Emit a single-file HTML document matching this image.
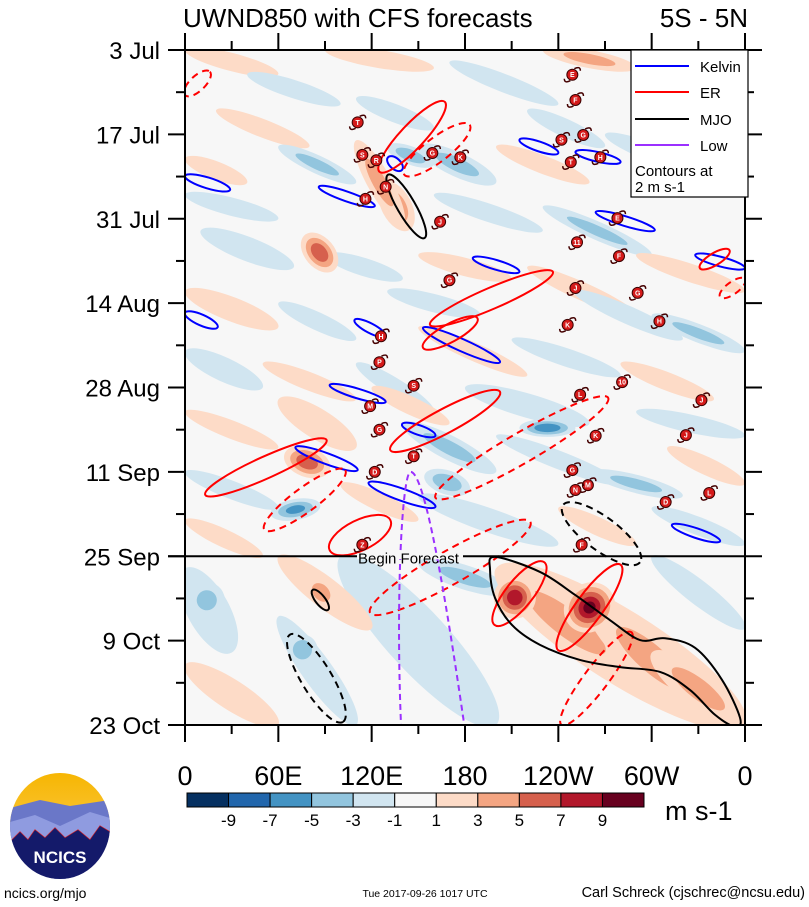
<!DOCTYPE html>
<html><head><meta charset="utf-8">
<style>
html,body{margin:0;padding:0;background:#fff;}
svg{display:block;font-family:"Liberation Sans",sans-serif;}
</style></head>
<body>
<svg id="chart" width="809" height="907" viewBox="0 0 809 907" xmlns="http://www.w3.org/2000/svg">
<defs>
<clipPath id="plotclip"><rect x="185" y="50" width="560" height="675"/></clipPath>
<linearGradient id="sky" x1="0" y1="0" x2="0" y2="1"><stop offset="0" stop-color="#f7b500"/><stop offset="1" stop-color="#f9d36a"/></linearGradient>
<clipPath id="logoclip"><ellipse cx="60" cy="826" rx="50" ry="53"/></clipPath>
</defs>
<text x="183" y="27" font-size="26">UWND850 with CFS forecasts</text>
<text x="748" y="27" font-size="26" text-anchor="end">5S - 5N</text>
<g id="plot">
<rect x="185" y="50" width="560" height="675" fill="#f7f7f7"/>
<g id="fills" clip-path="url(#plotclip)"></g>
<g id="contours" clip-path="url(#plotclip)"></g>
<g id="storms" clip-path="url(#plotclip)"></g>
</g>
<g id="axes"></g>
<g id="legend">
<rect x="631" y="50" width="117" height="147" fill="#fff" stroke="#000" stroke-width="1.2"/>
<g><line x1="635" y1="66" x2="689" y2="66" stroke="#0000ff" stroke-width="2"/><text x="700" y="72" font-size="15">Kelvin</text></g>
<g><line x1="635" y1="92" x2="689" y2="92" stroke="#ff0000" stroke-width="2"/><text x="700" y="98" font-size="15">ER</text></g>
<g><line x1="635" y1="119" x2="689" y2="119" stroke="#000" stroke-width="2"/><text x="700" y="125" font-size="15">MJO</text></g>
<g><line x1="635" y1="145" x2="689" y2="145" stroke="#9b30ff" stroke-width="2"/><text x="700" y="151" font-size="15">Low</text></g>
<text x="635" y="176" font-size="15">Contours at</text>
<text x="635" y="192" font-size="15">2 m s-1</text>
</g>
<g id="colorbar"></g>
<text x="665" y="820" font-size="27">m s-1</text>
<g>
<g clip-path="url(#logoclip)">
<rect x="5" y="770" width="110" height="112" fill="url(#sky)"/>
<polygon points="10,808 40,800 70,806 110,800 110,882 10,882" fill="#6a77c8"/>
<polygon points="10,822 35,815 60,826 90,812 110,818 110,882 10,882" fill="#8f9be0"/>
<polyline points="10,842 20,832 28,840 35,830 45,838 55,828 65,838 78,830 90,840 100,826 110,832" fill="none" stroke="#e02020" stroke-width="1.2"/>
<polygon points="10,842 20,832 28,840 35,830 45,838 55,828 65,838 78,830 90,840 100,826 110,832 110,882 10,882" fill="#141a6a"/>
</g>
<text x="60" y="863" font-size="17" font-weight="bold" fill="#fff" text-anchor="middle">NCICS</text>
</g>
<text x="4" y="898" font-size="14">ncics.org/mjo</text>
<text x="425" y="897" font-size="10.5" text-anchor="middle">Tue 2017-09-26 1017 UTC</text>
<text x="805" y="897" font-size="14.5" text-anchor="end">Carl Schreck (cjschrec@ncsu.edu)</text>
</svg>
<script>
// ---- data ----
const dateLabels = ["3 Jul","17 Jul","31 Jul","14 Aug","28 Aug","11 Sep","25 Sep","9 Oct","23 Oct"];
const lonLabels = ["0","60E","120E","180","120W","60W","0"];
const colorLevels = [-9,-7,-5,-3,-1,1,3,5,7,9];
const colorFills = ["#053061","#2166ac","#4393c3","#92c5de","#d1e5f0","#f7f7f7","#fddbc7","#f4a582","#d6604d","#b2182b","#67001f"];
const forecastDay = 84;
// anomaly features (background wind field): lon1, day1, lon2, day2, thickness(days), value
const anomLon1 = [0,90,170,230,290,20,40,110,150,200,220,270,0,60,0,160,230,290,10,90,150,220,250,300,0,60,130,150,210,280,0,50,110,180,290,0,60,120,140,200,260,310,0,100,150,240,300,0,
  0,100,200,0,60,60,300,150,200,260,300,
  77,64,202,247,128,215,154,55,74,6,130,80,110];
const anomDay1 = [0,0,2,0,6,10,4,8,16,16,10,14,24,16,18,24,26,34,30,34,34,36,40,44,40,42,40,46,48,52,50,52,52,56,60,60,58,56,62,64,70,66,70,72,74,76,76,78,
  86,84,86,102,84,94,84,85,86,92,100,
  30.7,67,88.8,95.4,22,62.7,70.5,77,97,89.6,16,88,15];
const anomLon2 = [60,160,240,290,360,80,100,160,200,260,270,330,60,110,40,230,300,360,70,140,210,290,320,360,60,110,190,220,280,340,50,110,160,260,360,60,110,170,200,280,320,360,60,150,240,290,360,50,
  30,200,360,60,120,110,360,210,290,340,360,
  96,93,222,273,144,251,183,87,77,22,160,95,140];
const anomDay2 = [4,3,9,3,12,16,9,13,22,22,16,20,28,22,22,30,34,40,36,38,38,44,48,50,46,48,44,54,54,58,56,58,60,62,64,66,66,62,70,72,74,72,76,78,82,82,82,84,
  100,112,112,112,96,112,96,90,104,110,112,
  36.5,69.7,92.9,89.6,29.9,62.7,73,75.5,102,93,19,92,29];
const anomThick = [3,3,3,3,3,3,3,3,4,3,3,3,3,3,3,3,3,3,4,3,3,3,3,3,4,3,3,3,3,3,4,3,3,4,3,3,5,3,4,3,3,3,3,3,4,3,3,3,
  7,10,12,5,5,5,4,4,8,8,6,
  5,5,7,8,5,3,4,3.5,5,6,3,4,4];
const anomValue = [2,2,-2,4,2,2,-2,-2,-4,2,-2,-2,-2,-4,2,-2,-4,2,-2,-2,2,2,-2,-4,2,-2,-2,2,-2,2,-2,2,-2,-2,-2,2,2,2,-4,-2,-4,2,-2,2,-2,2,-2,2,
  -2,-2,2,2,2,-2,-2,-4,4,4,4,
  7,7,9,10,5,-7,-5,-6,-5,-4,-5,5,4];
// wave contours: lon1, day1, lon2, day2, thickness(days)
const kelvinLon1=[0,86,130.5,215,251,264,185,328,0,109,153,93,139.5,71,118,313];
const kelvinDay1=[20.9,22.7,17.8,14.9,16.9,26.9,34.5,34,43.6,44.8,46.1,55.6,62.1,65.9,71.8,78.8];
const kelvinLon2=[29,122,139.5,240,280,302,215,360,21,129,202.5,129,161,111,161,344];
const kelvinDay2=[23.2,25.9,19.9,17.1,18.6,29.9,36.8,36.2,46,47.5,51.8,58.4,64,69.7,75.8,81.5];
const kelvinThick=[1.8,1.6,1.8,1.6,1.6,1.6,1.6,1.6,1.8,1.6,2,1.6,1.6,1.8,2,1.6];
const erLon1=[125,13,157.5,132,153,199,240,93,331];
const erDay1=[20.2,73.8,45.6,66.4,49.4,95.4,99.6,83,36.2];
const erLon2=[167,91,236.5,202.5,188,231,280,132,350];
const erDay2=[8.6,64.7,36.8,56.7,44.5,85,85.4,78,33.2];
const erThick=[4,3.6,3.5,4,3,4.5,4.5,5,2];
const erDashLon1=[0,141,161,51,119,242,344];
const erDashDay1=[7.5,20.7,74.3,79.6,93.4,112,41];
const erDashLon2=[16,183,272,103,222,287,360];
const erDashDay2=[3.6,12.4,57.7,69.7,78.3,96.6,38];
const erDashThick=[2.5,4,5,4,5.5,4,2];
const mjoLon1=[130.5,82];
const mjoDay1=[20.7,89.6];
const mjoLon2=[154,92];
const mjoDay2=[31.2,92.9];
const mjoThick=[3,1.6];
// forecast MJO outline (lon, day)
const mjoOutlineLon=[199.3,228.2,250.7,273.2,292.5,308.6,327.9,345.2,356.8,353.6,340.7,324.7,305.4,279.7,253.9,228.2,210.2,199.3,196.1];
const mjoOutlineDay=[84.1,86.6,90.4,94.6,97.9,97.6,99.2,104.5,110.8,112.3,110.3,106.2,103.2,102.4,101.2,98.7,95.4,90.9,86.3];
const mjoDashLon1=[67.5,243];
const mjoDashDay1=[97,75.5];
const mjoDashLon2=[101.5,292.5];
const mjoDashDay2=[111.5,85];
const mjoDashThick=[5,5.5];
const lowTopLon=[145];
const lowTopDay=[70];
const lowLeftLon=[139];
const lowRightLon=[180];
// storms
const stormLon=[249,251,111,256,242,114,123,159,177,267,248,129,116,164,278,252,279,170,251,291,246,305,126,125,147,281,254,332,119,125,264,322,147,122,249,259,251,309,337,255,114];
const stormDay=[4.1,8.3,12,14.1,14.9,17.4,18.3,17.1,17.8,17.8,18.6,22.7,24.7,28.5,27.9,31.9,34.2,38.2,39.5,40.3,45.6,45,47.5,51.8,55.7,55.1,57.2,58.1,59.1,63,64,63.9,67.4,70,69.7,72.2,73,75,73.5,82.1,82.1];
const stormName=["E","F","T","G","S","S","R","G","K","H","T","N","H","J","E","11","F","G","J","G","K","H","H","P","S","10","L","J","M","G","K","J","T","D","G","M","N","D","L","F","Z"];

// ---- axes ----
const X0=185,X1=745,Y0=50,Y1=725,NDAYS=112;
const xs = lon => X0 + lon*(X1-X0)/360;
const ys = day => Y0 + day*(Y1-Y0)/NDAYS;
const NS="http://www.w3.org/2000/svg";
function mk(tag, attrs, parent){const e=document.createElementNS(NS,tag);for(const k in attrs)e.setAttribute(k,attrs[k]);parent.appendChild(e);return e;}
function colorFor(v){let i=0;while(i<colorLevels.length && v>colorLevels[i])i++;return colorFills[i];}

function ellipseBetween(l1,d1,l2,d2,th,parent,style){
  const xa=xs(l1),ya=ys(d1),xb=xs(l2),yb=ys(d2);
  const cx=(xa+xb)/2,cy=(ya+yb)/2;
  const len=Math.hypot(xb-xa,yb-ya)/2;
  const ang=Math.atan2(yb-ya,xb-xa)*180/Math.PI;
  const w=(ys(th)-ys(0))/2;
  const attrs=Object.assign({cx:cx,cy:cy,rx:Math.max(len,w),ry:w,transform:`rotate(${ang} ${cx} ${cy})`},style);
  return mk('ellipse',attrs,parent);
}

// fills
const fills=document.getElementById('fills');
for(let i=0;i<anomValue.length;i++){
  const v=anomValue[i],a=Math.abs(v),s=Math.sign(v);
  const g=mk('g',{},fills);
  
  
  for(let lev=1;lev<a;lev+=2){
    const f=1-(lev-1)/(a+0.5);
    const cl=(anomLon1[i]+anomLon2[i])/2, cd=(anomDay1[i]+anomDay2[i])/2;
    const l1=cl+(anomLon1[i]-cl)*f, l2=cl+(anomLon2[i]-cl)*f;
    const d1=cd+(anomDay1[i]-cd)*f, d2=cd+(anomDay2[i]-cd)*f;
    ellipseBetween(l1,d1,l2,d2,anomThick[i]*f,g,{fill:colorFor(s*(lev+1))});
  }
}

// contours
const cg=document.getElementById('contours');
function drawSet(L1,D1,L2,D2,T,color,dash,name,sw){
  for(let i=0;i<L1.length;i++){
    const e=ellipseBetween(L1[i],D1[i],L2[i],D2[i],T[i],cg,{fill:'none',stroke:color,'stroke-width':sw,'stroke-dasharray':dash});
    
    
  }
}
drawSet(kelvinLon1,kelvinDay1,kelvinLon2,kelvinDay2,kelvinThick,'#0000ff','none','kelvin-contour',2);
drawSet(erLon1,erDay1,erLon2,erDay2,erThick,'#ff0000','none','er-contour',2);
drawSet(erDashLon1,erDashDay1,erDashLon2,erDashDay2,erDashThick,'#ff0000','7 5','er-negative-contour',2);
drawSet(mjoLon1,mjoDay1,mjoLon2,mjoDay2,mjoThick,'#000','none','mjo-contour',2);
drawSet(mjoDashLon1,mjoDashDay1,mjoDashLon2,mjoDashDay2,mjoDashThick,'#000','7 5','mjo-negative-contour',2);
(function(){
  const P=mjoOutlineLon.map((l,i)=>[xs(l),ys(mjoOutlineDay[i])]);
  const n=P.length;let d=`M${P[0][0]},${P[0][1]}`;
  for(let i=0;i<n;i++){
    const p0=P[(i-1+n)%n],p1=P[i],p2=P[(i+1)%n],p3=P[(i+2)%n];
    const c1=[p1[0]+(p2[0]-p0[0])/6,p1[1]+(p2[1]-p0[1])/6];
    const c2=[p2[0]-(p3[0]-p1[0])/6,p2[1]-(p3[1]-p1[1])/6];
    d+=` C${c1[0]},${c1[1]} ${c2[0]},${c2[1]} ${p2[0]},${p2[1]}`;
  }
  const p=mk('path',{d:d+'Z',fill:'none',stroke:'#000','stroke-width':2},cg);
  
  
})();
for(let i=0;i<lowTopLon.length;i++){
  const tx=xs(lowTopLon[i]),ty=ys(lowTopDay[i]);
  const p=mk('path',{d:`M${xs(lowLeftLon[i])},${Y1+5} C${xs(lowLeftLon[i])-6},${ty+120} ${tx-8},${ty} ${tx},${ty} C${tx+14},${ty} ${xs(lowRightLon[i])-20},${ty+120} ${xs(lowRightLon[i])},${Y1+5}`,fill:'none',stroke:'#9b30ff','stroke-width':2,'stroke-dasharray':'6 4'},cg);
  
  
}

// storms
const sg=document.getElementById('storms');
for(let i=0;i<stormLon.length;i++){
  const x=xs(stormLon[i]),y=ys(stormDay[i]);
  const g=mk('g',{},sg);
  
  
  mk('path',{d:`M${x+2},${y-6} q6,-3 6,2 M${x-2},${y+6} q-6,3 -6,-2`,fill:'none',stroke:'#400','stroke-width':1.5},g);
  mk('circle',{cx:x,cy:y,r:5.5,fill:'#d41a1a',stroke:'#3a0000','stroke-width':1},g);
  const t=mk('text',{x:x,y:y+2.5,'font-size':7,'font-weight':'bold',fill:'#fff','text-anchor':'middle'},g);
  t.textContent=stormName[i];
}

// forecast line
const pl=document.getElementById('plot');
const fl=mk('line',{x1:168,y1:ys(forecastDay),x2:X1,y2:ys(forecastDay),stroke:'#000','stroke-width':2},pl);


mk('rect',{x:357,y:ys(forecastDay)-3,width:106,height:6,fill:'#f7f7f7'},pl);
const ft=mk('text',{x:358,y:ys(forecastDay)+7,'font-size':15},pl);


ft.textContent='Begin Forecast';

// axes
const ax=document.getElementById('axes');
const fr=mk('rect',{x:X0,y:Y0,width:X1-X0,height:Y1-Y0,fill:'none',stroke:'#000','stroke-width':2},ax);


for(let d=0;d<=NDAYS;d+=7){
  const y=ys(d),maj=(d%14===0),L=maj?17:9;
  mk('line',{x1:X0-L,y1:y,x2:X0,y2:y,stroke:'#000','stroke-width':2},ax);
  mk('line',{x1:X1,y1:y,x2:X1+L,y2:y,stroke:'#000','stroke-width':2},ax);
}
dateLabels.forEach((s,i)=>{
  const t=mk('text',{x:160,y:ys(i*14)+9,'font-size':24,'text-anchor':'end'},ax);
  
  
  t.textContent=s;
});
for(let l=0;l<=360;l+=30){
  const x=xs(l),maj=(l%60===0),L=maj?17:9;
  mk('line',{x1:x,y1:Y1,x2:x,y2:Y1+L,stroke:'#000','stroke-width':2},ax);
  mk('line',{x1:x,y1:Y0-L,x2:x,y2:Y0,stroke:'#000','stroke-width':2},ax);
}
lonLabels.forEach((s,i)=>{
  const t=mk('text',{x:xs(i*60),y:785,'font-size':27,'text-anchor':'middle'},ax);
  
  
  t.textContent=s;
});

// colorbar
const cb=document.getElementById('colorbar');
const CB0=187,CB1=644,bw=(CB1-CB0)/colorFills.length;
colorFills.forEach((c,i)=>{
  const r=mk('rect',{x:CB0+i*bw,y:793,width:bw,height:14,fill:c,stroke:'#000','stroke-width':1},cb);
  
  
});
colorLevels.forEach((v,i)=>{
  const t=mk('text',{x:CB0+(i+1)*bw,y:826,'font-size':17,'text-anchor':'middle'},cb);
  
  
  t.textContent=String(v);
});
</script>
</body></html>
